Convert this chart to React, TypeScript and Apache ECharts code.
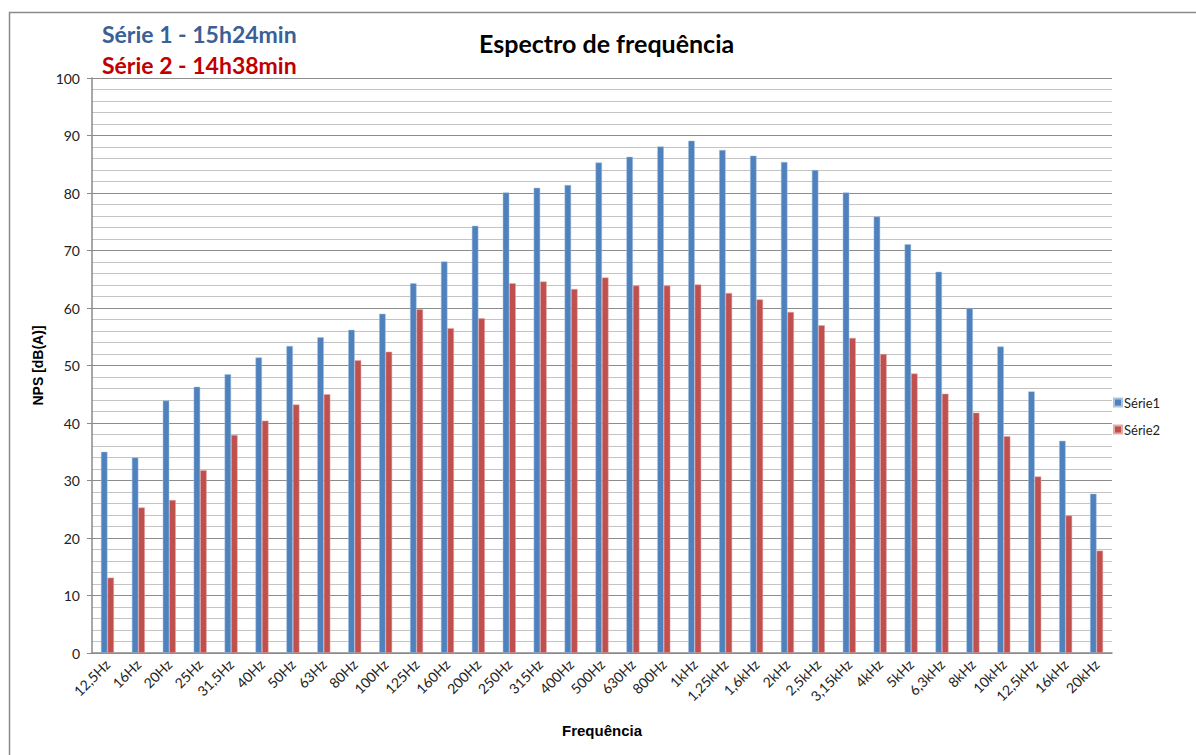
import React, { useEffect, useRef } from "react";
import * as echarts from "echarts";

const categories = [
  "12,5Hz", "16Hz", "20Hz", "25Hz", "31,5Hz", "40Hz", "50Hz", "63Hz", "80Hz", "100Hz",
  "125Hz", "160Hz", "200Hz", "250Hz", "315Hz", "400Hz", "500Hz", "630Hz", "800Hz", "1kHz",
  "1,25kHz", "1,6kHz", "2kHz", "2,5kHz", "3,15kHz", "4kHz", "5kHz", "6,3kHz", "8kHz", "10kHz",
  "12,5kHz", "16kHz", "20kHz",
];

const serie1 = [
  35.0, 34.0, 43.9, 46.3, 48.5, 51.4, 53.4, 54.9, 56.2, 59.0,
  64.3, 68.1, 74.3, 80.1, 80.9, 81.4, 85.3, 86.3, 88.1, 89.1,
  87.5, 86.5, 85.4, 84.0, 80.1, 75.9, 71.1, 66.3, 60.0, 53.3,
  45.5, 36.9, 27.7,
];

const serie2 = [
  13.1, 25.3, 26.6, 31.8, 37.9, 40.4, 43.2, 45.0, 50.9, 52.4,
  59.8, 56.5, 58.2, 64.3, 64.6, 63.3, 65.3, 63.9, 63.9, 64.1,
  62.6, 61.5, 59.3, 57.0, 54.8, 52.0, 48.6, 45.1, 41.8, 37.7,
  30.7, 23.9, 17.8,
];

const seriesNames = ["Série1", "Série2"];
const headerLines = ["Série 1 - 15h24min", "Série 2 - 14h38min"];
const chartTitle = "Espectro de frequência";
const xTitle = "Frequência";
const yTitle = "NPS [dB(A)]";

export default function App() {
  const ref = useRef<HTMLDivElement>(null);

  useEffect(() => {
    if (!ref.current) return;
    const chart = echarts.init(ref.current, undefined, { renderer: "svg" });
    const calibri = "Lato, 'Open Sans', sans-serif";
    const arial = "'Liberation Sans', Arial, sans-serif";
    chart.setOption({
      animation: false,
      backgroundColor: "#ffffff",
      title: {
        text: chartTitle,
        left: 474,
        top: 25,
        textStyle: { fontFamily: calibri, fontWeight: "bold", fontSize: 25, color: "#000000" },
      },
      legend: {
        orient: "vertical",
        left: 1108,
        top: 391,
        itemWidth: 8,
        itemHeight: 8,
        itemGap: 14,
        icon: "rect",
        textStyle: { fontFamily: calibri, fontSize: 13, color: "#222222", padding: [0, 0, 0, -3] },
        data: seriesNames,
      },
      graphic: [
        {
          type: "rect",
          shape: { x: 9.5, y: 12.5, width: 1200, height: 760 },
          style: { fill: "none", stroke: "#8a8a8a", lineWidth: 1.5 },
          silent: true,
        },
        {
          type: "text",
          left: 102,
          top: 22,
          style: { text: headerLines[0], fontFamily: calibri, fontWeight: "bold", fontSize: 23, fill: "#3a6096" },
        },
        {
          type: "text",
          left: 102,
          top: 53,
          style: { text: headerLines[1], fontFamily: calibri, fontWeight: "bold", fontSize: 23, fill: "#c00000" },
        },
      ],
      grid: { left: 92, right: 84, top: 78, bottom: 102, containLabel: false },
      xAxis: {
        type: "category",
        data: categories,
        name: xTitle,
        nameLocation: "middle",
        nameGap: 70,
        nameTextStyle: { fontFamily: arial, fontWeight: "bold", fontSize: 15, color: "#000000" },
        axisLine: { lineStyle: { color: "#8a8a8a", width: 1.5 } },
        axisTick: { show: false },
        axisLabel: {
          rotate: 45,
          interval: 0,
          margin: 9,
          fontFamily: calibri,
          fontSize: 14,
          color: "#222222",
        },
      },
      yAxis: {
        type: "value",
        min: 0,
        max: 100,
        interval: 10,
        name: yTitle,
        nameLocation: "middle",
        nameGap: 43,
        nameRotate: 90,
        nameTextStyle: { fontFamily: arial, fontWeight: "bold", fontSize: 14, color: "#000000" },
        axisLine: { show: true, lineStyle: { color: "#8a8a8a", width: 1.5 } },
        axisTick: { show: true, length: 5, lineStyle: { color: "#8a8a8a" } },
        axisLabel: { fontFamily: calibri, fontSize: 14, color: "#222222", margin: 12 },
        splitLine: { show: true, lineStyle: { color: "#8c8c8c", width: 1.2 } },
        minorTick: { show: false, splitNumber: 5 },
        minorSplitLine: { show: true, lineStyle: { color: "#c4c4c4", width: 1.2 } },
      },
      series: [
        {
          name: seriesNames[0],
          type: "bar",
          data: serie1,
          barWidth: 6.5,
          barGap: "0%",
          itemStyle: { color: "#4f81bd", borderColor: "#a9c3e3", borderWidth: 0.5 },
        },
        {
          name: seriesNames[1],
          type: "bar",
          data: serie2,
          barWidth: 6.5,
          barGap: "0%",
          itemStyle: { color: "#c0504d", borderColor: "#e3a9a8", borderWidth: 0.5 },
        },
      ],
    });
    return () => chart.dispose();
  }, []);

  return (
    <div
      ref={ref}
      style={{ position: "fixed", left: 0, top: 0, width: 1196, height: 755 }}
    />
  );
}
